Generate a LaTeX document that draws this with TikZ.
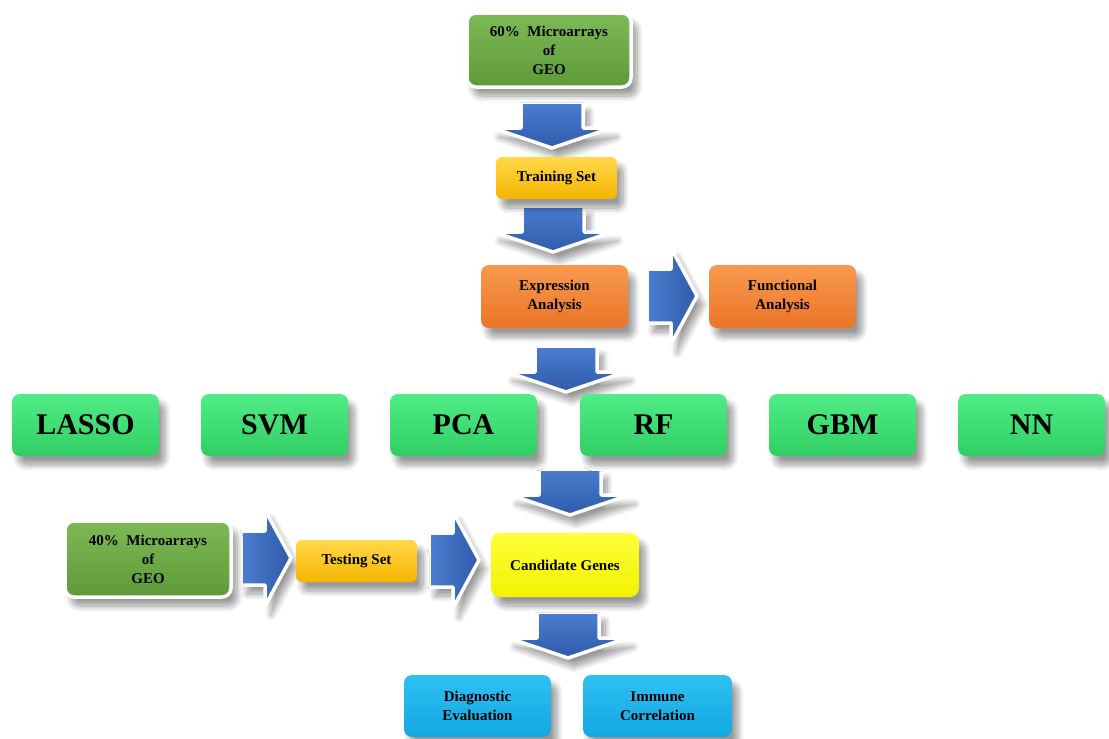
\documentclass[tikz,border=0pt]{standalone}
\usepackage{fontspec}
\setmainfont{Liberation Serif}
\usetikzlibrary{shadows.blur}

\definecolor{geotop}{HTML}{7DB955}
\definecolor{geobot}{HTML}{5E9A38}
\definecolor{goldtop}{HTML}{FFD84A}
\definecolor{goldbot}{HTML}{F5B400}
\definecolor{orangetop}{HTML}{F89A4E}
\definecolor{orangebot}{HTML}{EB7428}
\definecolor{mtop}{HTML}{50EC86}
\definecolor{mbot}{HTML}{30CF62}
\definecolor{candtop}{HTML}{FFFF3A}
\definecolor{candbot}{HTML}{F2F200}
\definecolor{restop}{HTML}{2EC0F2}
\definecolor{resbot}{HTML}{14A8E2}
\definecolor{arrowtop}{HTML}{4C7DD0}
\definecolor{arrowbot}{HTML}{2F5BAA}

\begin{document}
\begin{tikzpicture}[x=1pt,y=-1pt,
    every node/.style={font=\bfseries,align=center,inner sep=0pt},
    softshadow/.style={blur shadow={shadow xshift=6pt,shadow yshift=-9pt,shadow blur radius=6pt,
        shadow blur steps=10,shadow opacity=40}},
    geobox/.style={rounded corners=9pt,draw=white,line width=3.5pt,top color=geotop,bottom color=geobot,
        softshadow,minimum width=164pt,minimum height=74pt,font=\bfseries\fontsize{15}{19}\selectfont},
    setbox/.style={rounded corners=6pt,top color=goldtop,bottom color=goldbot,softshadow,
        minimum width=121pt,minimum height=42pt,font=\bfseries\fontsize{15}{19}\selectfont},
    stepbox/.style={rounded corners=8pt,top color=orangetop,bottom color=orangebot,softshadow,
        minimum width=147pt,minimum height=63pt,font=\bfseries\fontsize{15}{19}\selectfont},
    methodbox/.style={rounded corners=8pt,top color=mtop,bottom color=mbot,softshadow,
        minimum width=147pt,minimum height=62pt,font=\bfseries\fontsize{30}{36}\selectfont},
    candbox/.style={rounded corners=9pt,top color=candtop,bottom color=candbot,softshadow,
        minimum width=148pt,minimum height=64pt,font=\bfseries\fontsize{15}{19}\selectfont},
    resultbox/.style={rounded corners=8pt,top color=restop,bottom color=resbot,softshadow,
        minimum width=147pt,minimum height=62pt,font=\bfseries\fontsize{15}{19}\selectfont},
    blockarrow/.style={draw=white,line width=3.5pt,line join=round,softshadow},
    downblock/.pic={
        \path[blockarrow,top color=arrowtop,bottom color=arrowbot]
            (-31,-23) -- ++(62,0) -- ++(0,26) -- ++(28,0) -- ++(-59,20) -- ++(-59,-20) -- ++(28,0) -- cycle;},
    rightblock/.pic={
        \path[blockarrow,left color=arrowtop,right color=arrowbot]
            (-25,-27) -- ++(24,0) -- ++(0,-21) -- ++(26,48) -- ++(-26,48) -- ++(0,-21) -- ++(-24,0) -- cycle;}]
    \useasboundingbox (0,0) rectangle (1109,739);

    % block arrows (drawn first, boxes cover their shadows)
    \pic at (552,125) {downblock};
    \pic at (553,229) {downblock};
    \pic at (566,369) {downblock};
    \pic at (570,492) {downblock};
    \pic at (568,635) {downblock};
    \pic at (672,296) {rightblock};
    \pic at (266,558) {rightblock};
    \pic at (454,560) {rightblock};

    % training branch
    \node[geobox] (geo60) at (549,50) {60\%\ \ Microarrays\\of\\GEO};
    \node[setbox] (train) at (556.5,178) {Training Set};
    \node[stepbox] (expr) at (554.5,296.5) {Expression\\Analysis};
    \node[stepbox] (func) at (782.5,296.5) {Functional\\Analysis};

    % machine learning methods
    \node[methodbox] (lasso) at (85.5,425) {LASSO};
    \node[methodbox] (svm) at (274.5,425) {SVM};
    \node[methodbox] (pca) at (463.5,425) {PCA};
    \node[methodbox] (rf) at (653.5,425) {RF};
    \node[methodbox] (gbm) at (842.5,425) {GBM};
    \node[methodbox] (nn) at (1031.5,425) {NN};

    % testing branch
    \node[geobox,minimum width=166pt,minimum height=76pt] (geo40) at (148,559) {40\%\ \ Microarrays\\of\\GEO};
    \node[setbox] (test) at (356.5,561) {Testing Set};
    \node[candbox] (cand) at (565,565) {Candidate Genes};
    \node[resultbox] (diag) at (477.5,706) {Diagnostic\\Evaluation};
    \node[resultbox,minimum width=149pt] (immune) at (657.5,706) {Immune\\Correlation};
\end{tikzpicture}
\end{document}
